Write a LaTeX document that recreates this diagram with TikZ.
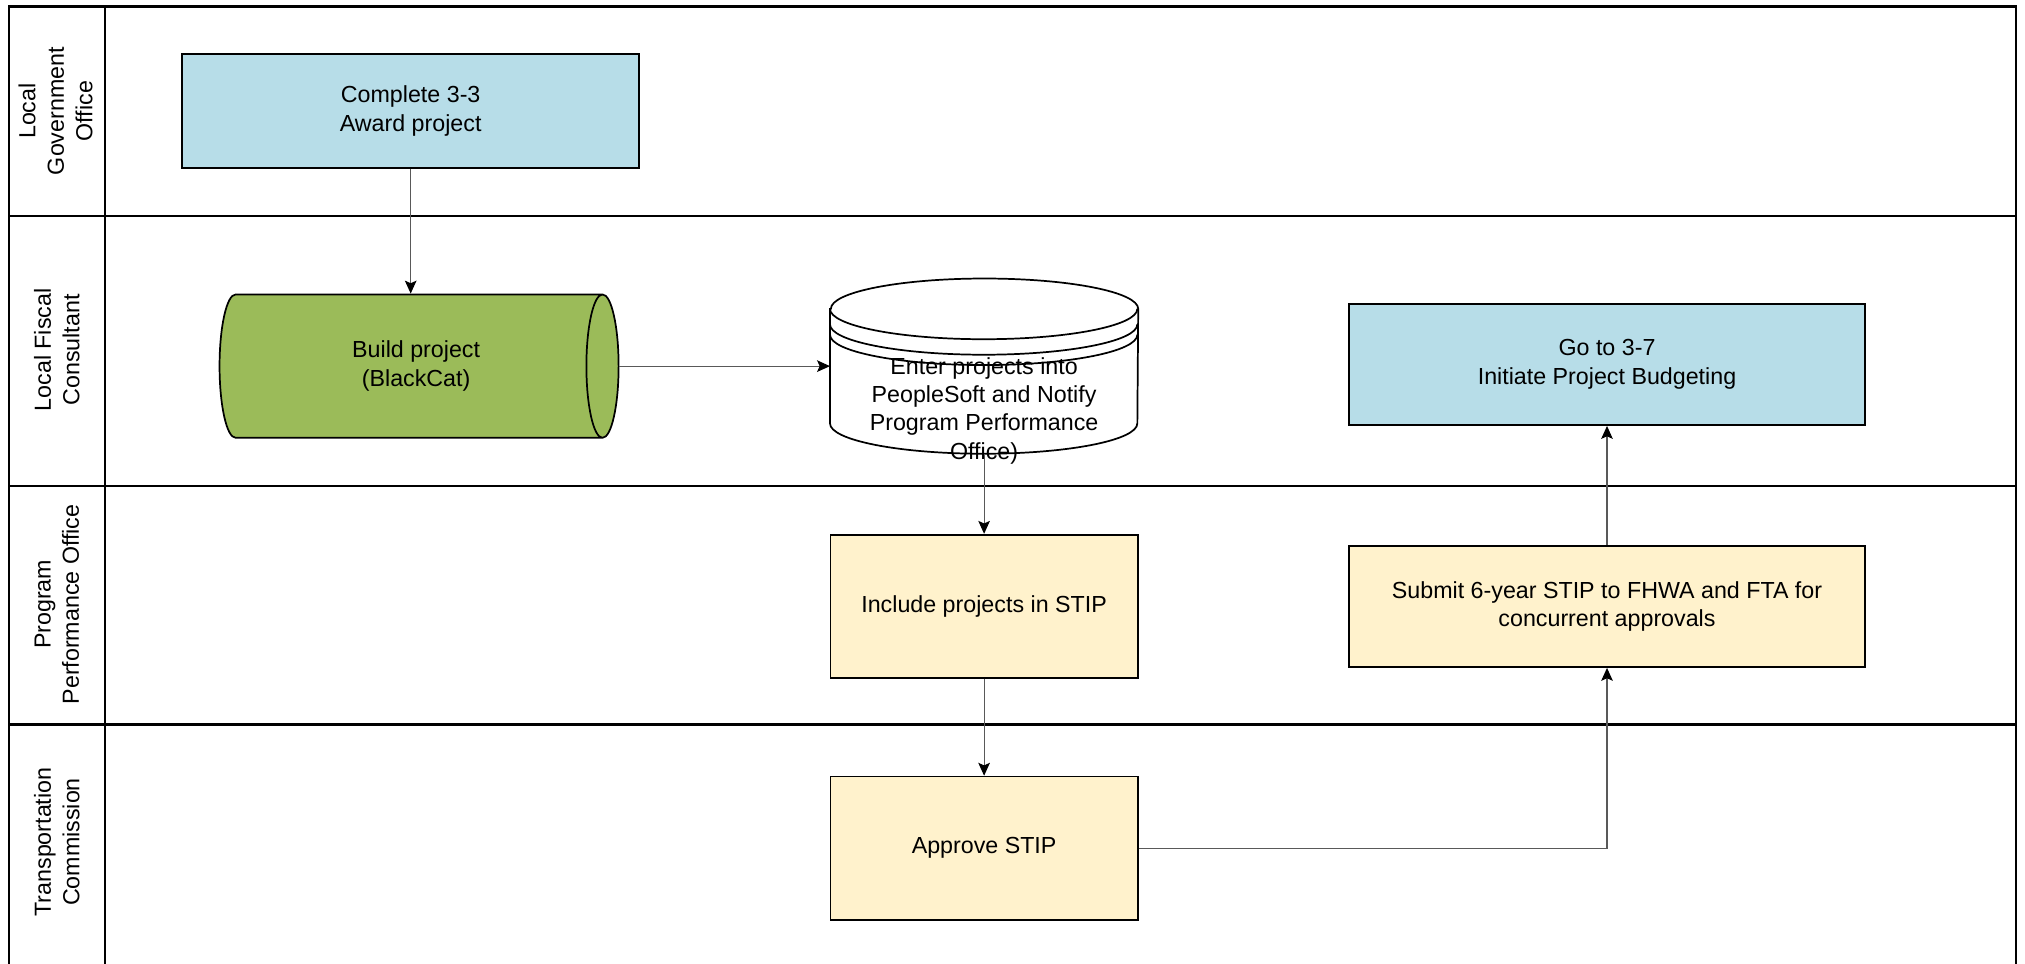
\documentclass[tikz,border=0pt]{standalone}
\usepackage{fontspec}
\setmainfont{Liberation Sans}
\usepackage{tikz}
\usetikzlibrary{positioning,arrows.meta,shapes.geometric}

\definecolor{procblue}{HTML}{B7DDE8}
\definecolor{procgreen}{HTML}{9BBB59}
\definecolor{procyellow}{HTML}{FFF2CC}

\begin{document}
\begin{tikzpicture}[
    x=0.6pt, y=-0.6pt,
    font=\fontsize{10.8}{13.2}\selectfont,
    lane/.style={line width=1pt},
    lanelabel/.style={rotate=90, align=center},
    process/.style={rectangle, draw, line width=0.8pt, minimum width=142.8pt, minimum height=66.6pt, align=center, fill=procyellow},
    wide/.style={process, minimum width=240pt, minimum height=56.4pt},
    storage/.style={cylinder, draw, line width=0.8pt, fill=procgreen, shape border rotate=0, aspect=0.5, minimum height=185.4pt, minimum width=66.6pt, align=center},
    arrow/.style={-{Stealth[length=6pt, width=5.4pt, inset=1.2pt, color=black]}, draw=black!65, line width=0.5pt}
]
    \useasboundingbox (0,0) rectangle (1568,746);

    % swim lanes
    \draw[lane] (7,5) rectangle (1561,770);
    \draw[lane] (81,5) -- (81,770);
    \draw[lane] (7,167) -- (1561,167);
    \draw[lane] (7,376) -- (1561,376);
    \draw[lane] (7,561) -- (1561,561);

    \node[lanelabel] (lgo) at (43,86) {Local\\Government\\Office};
    \node[lanelabel] (lfc) at (44,271) {Local Fiscal\\Consultant};
    \node[lanelabel] (ppo) at (44,468) {Program\\Performance Office};
    \node[lanelabel] (tco) at (44,652) {Transportation\\Commission};

    % steps
    \node[process, fill=procblue, minimum width=212.4pt, minimum height=52.8pt] (award) at (318,86) {Complete 3-3\\Award project};
    \node[storage, anchor=shape center] (build) at (324.5,283.5) {\hspace*{8.4pt}Build project\\\hspace*{8.4pt}(BlackCat)};

    \node[rectangle, minimum width=142.8pt, minimum height=81pt] (enter) at (762,283.5) {};
    \draw[line width=0.8pt, fill=white] ([yshift=-14.1pt]enter.north west) -- ([yshift=14.1pt]enter.south west)
        arc[start angle=180, end angle=360, x radius=71.4pt, y radius=14.1pt]
        -- ([yshift=-14.1pt]enter.north east)
        arc[start angle=0, end angle=180, x radius=71.4pt, y radius=14.1pt] -- cycle;
    \draw[line width=0.8pt] ([yshift=-14.1pt]enter.north west)
        arc[start angle=180, end angle=360, x radius=71.4pt, y radius=14.1pt];
    \draw[line width=0.8pt] ([yshift=-21.3pt]enter.north west)
        arc[start angle=180, end angle=360, x radius=71.4pt, y radius=14.1pt];
    \draw[line width=0.8pt] ([yshift=-26.1pt]enter.north west)
        arc[start angle=180, end angle=360, x radius=71.4pt, y radius=14.1pt];
    \node[align=center] (enterlbl) at (762,318) {Enter projects into\\PeopleSoft and Notify\\Program Performance\\Office)};

    \node[process, below=37.2pt of enter] (include) {Include projects in STIP};
    \node[process, below=45pt of include] (approve) {Approve STIP};
    \node[wide, right=97.2pt of include] (submit) {Submit 6-year STIP to FHWA and FTA for\\concurrent approvals};
    \node[wide, fill=procblue, above=55.2pt of submit] (budget) {Go to 3-7\\Initiate Project Budgeting};

    % flow
    \draw[arrow] (award.south) -- (award.south |- build.north);
    \draw[arrow] (build.east) -- (build.east -| enter.west);
    \draw[arrow] (enter) -- (include);
    \draw[arrow] (include) -- (approve);
    \draw[arrow] (approve.east) -| (submit.south);
    \draw[arrow] (submit) -- (budget);
\end{tikzpicture}
\end{document}
